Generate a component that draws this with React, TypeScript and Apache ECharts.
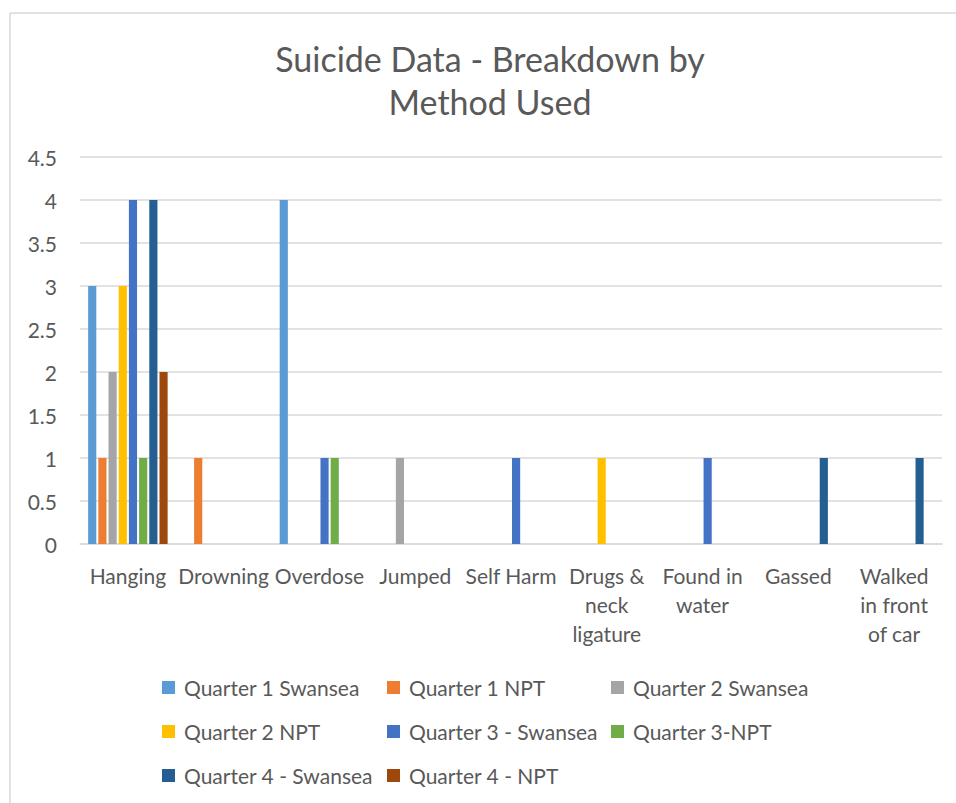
import React, { useEffect, useRef } from "react";
import * as echarts from "echarts";

const categories = [
  "Hanging",
  "Drowning",
  "Overdose",
  "Jumped",
  "Self Harm",
  "Drugs &\nneck\nligature",
  "Found in\nwater",
  "Gassed",
  "Walked\nin front\nof car",
];

const seriesNames = [
  "Quarter 1 Swansea",
  "Quarter 1 NPT",
  "Quarter 2 Swansea",
  "Quarter 2 NPT",
  "Quarter 3 - Swansea",
  "Quarter 3-NPT",
  "Quarter 4 - Swansea",
  "Quarter 4 - NPT",
];

const q1Swansea = [3, null, 4, null, null, null, null, null, null];
const q1NPT = [1, 1, null, null, null, null, null, null, null];
const q2Swansea = [2, null, null, 1, null, null, null, null, null];
const q2NPT = [3, null, null, null, null, 1, null, null, null];
const q3Swansea = [4, null, 1, null, 1, null, 1, null, null];
const q3NPT = [1, null, 1, null, null, null, null, null, null];
const q4Swansea = [4, null, null, null, null, null, null, 1, 1];
const q4NPT = [2, null, null, null, null, null, null, null, null];

const seriesValues = [q1Swansea, q1NPT, q2Swansea, q2NPT, q3Swansea, q3NPT, q4Swansea, q4NPT];

const colors = ["#5B9BD5", "#ED7D31", "#A5A5A5", "#FFC000", "#4472C4", "#70AD47", "#255E91", "#9E480E"];

const FONT = "Lato, 'Open Sans', sans-serif";
const TEXT = "#595959";

export default function App() {
  const ref = useRef<HTMLDivElement>(null);
  useEffect(() => {
    if (!ref.current) return;
    const chart = echarts.init(ref.current, undefined, { renderer: "svg" });

    const legendCols = [162, 387, 611];
    const legendRows = [677, 721, 765];
    const legends = seriesNames.map((name, i) => ({
      data: [name],
      left: legendCols[i % 3],
      top: legendRows[Math.floor(i / 3)],
      itemWidth: 13,
      itemHeight: 13,
      icon: "rect",
      padding: 0,
      textStyle: { fontFamily: FONT, fontSize: 21, color: TEXT, padding: [0, 0, 0, 4] },
      selectedMode: false,
    }));

    chart.setOption({
      animation: false,
      color: colors,
      textStyle: { fontFamily: FONT },
      title: {
        text: "Suicide Data - Breakdown by\nMethod Used",
        left: 490,
        textAlign: "center",
        top: 37,
        padding: 0,
        textStyle: { fontFamily: FONT, fontSize: 34, fontWeight: "normal", color: TEXT, lineHeight: 43 },
      },
      legend: legends,
      graphic: [
        {
          type: "line",
          shape: { x1: 10, y1: 13, x2: 956, y2: 13 },
          style: { stroke: "#d9d9d9", lineWidth: 1.5 },
        },
        {
          type: "line",
          shape: { x1: 10, y1: 13, x2: 10, y2: 803 },
          style: { stroke: "#d9d9d9", lineWidth: 1.5 },
        },
      ],
      grid: { left: 80, right: 14, top: 157, bottom: 803 - 544, containLabel: false },
      xAxis: {
        type: "category",
        data: categories,
        axisTick: { show: false },
        axisLine: { lineStyle: { color: "#d9d9d9", width: 1.5 } },
        axisLabel: {
          interval: 0,
          color: TEXT,
          fontFamily: FONT,
          fontSize: 21,
          lineHeight: 29,
          margin: 17,
          align: "center",
        },
      },
      yAxis: {
        type: "value",
        min: 0,
        max: 4.5,
        interval: 0.5,
        axisLine: { show: false },
        axisTick: { show: false },
        splitLine: { lineStyle: { color: "#d9d9d9", width: 1.5 } },
        axisLabel: { color: TEXT, fontFamily: FONT, fontSize: 21, margin: 23 },
      },
      series: seriesNames.map((name, i) => ({
        name,
        type: "bar",
        data: seriesValues[i],
        barGap: "25%",
        barCategoryGap: "17%",
        itemStyle: { color: colors[i] },
      })),
    });
    return () => chart.dispose();
  }, []);
  return (
    <div
      ref={ref}
      style={{ position: "absolute", left: 0, top: 0, width: 956, height: 803, background: "#fff" }}
    />
  );
}
